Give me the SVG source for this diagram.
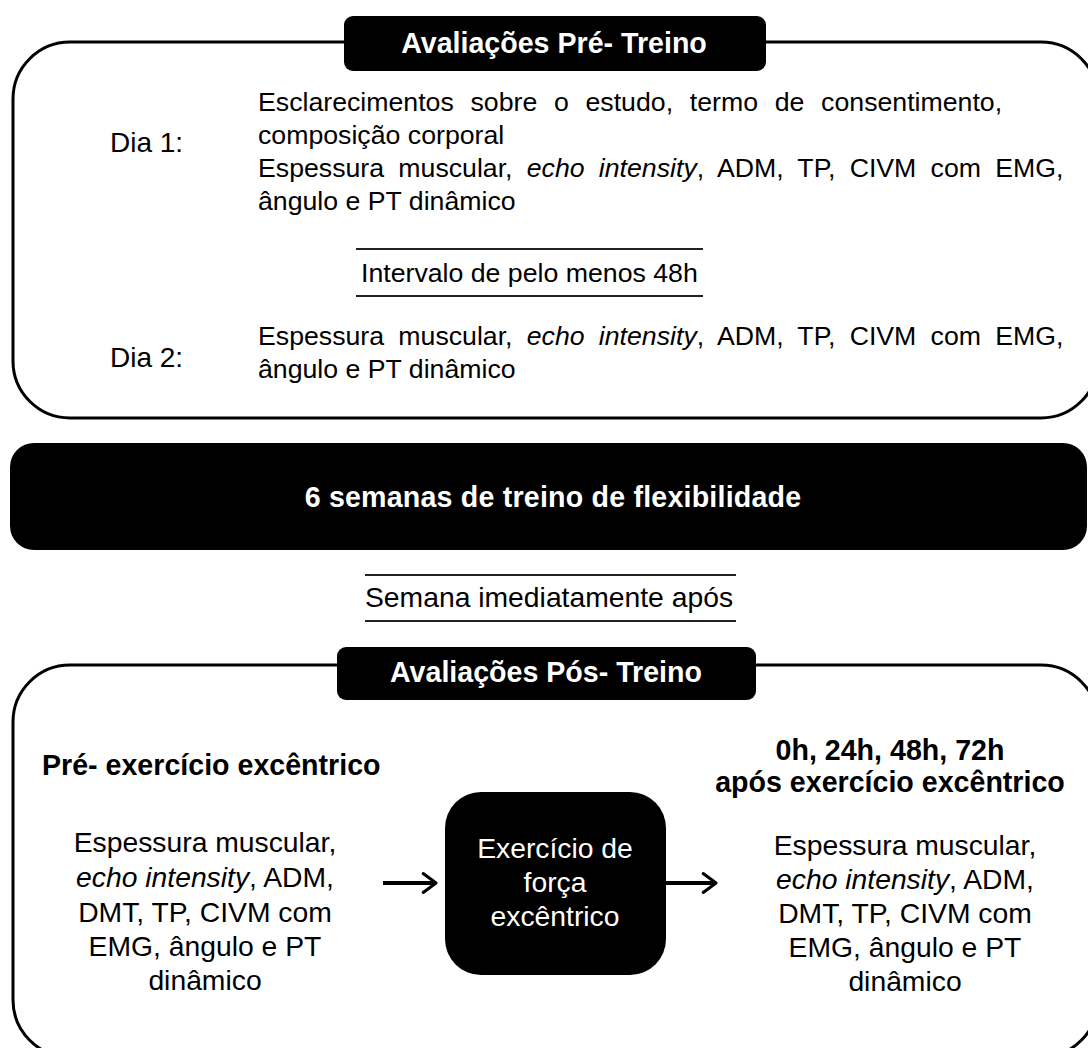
<svg xmlns="http://www.w3.org/2000/svg" width="1088" height="1048" viewBox="0 0 1088 1048">
<style>
  .t { font-family: "Liberation Sans", Arial, sans-serif; font-size: 26.7px; fill: #000; }
  .m { font-family: "Liberation Sans", Arial, sans-serif; font-size: 28.3px; fill: #000; }
  .d { font-family: "Liberation Sans", Arial, sans-serif; font-size: 28px; fill: #000; }
  .b { font-family: "Liberation Sans", Arial, sans-serif; font-size: 28.6px; font-weight: bold; }
  .w { fill: #fff; }
  .frame { fill: #fff; stroke: #000; stroke-width: 3; }
  .dark { fill: #000; }
  .rule { stroke: #222; stroke-width: 2; }
  .c { text-anchor: middle; }
  .i { font-style: italic; }
</style>
<defs>
  <marker id="chev" viewBox="0 0 12 12" refX="9.5" refY="6" markerWidth="6.2" markerHeight="6.2" orient="auto" markerUnits="strokeWidth">
    <path d="M3,1.2 L9.5,6 L3,10.8" fill="none" stroke="#000" stroke-width="1.6" stroke-linecap="round" stroke-linejoin="round"/>
  </marker>
</defs>
<rect width="1088" height="1048" fill="#fff"/>

<g id="pre-treino">
  <rect class="frame" x="13" y="42" width="1085" height="376" rx="57"/>
  <rect class="dark" x="344" y="16" width="422" height="55" rx="9"/>
  <text class="b w c" x="554" y="53">Avaliações Pré- Treino</text>
  <text class="d" x="110" y="152">Dia 1:</text>
  <text class="t" x="258" y="111" word-spacing="9.3">Esclarecimentos sobre o estudo, termo de consentimento,</text>
  <text class="t" x="258" y="144">composição corporal</text>
  <text class="t" x="258" y="177" word-spacing="6.8">Espessura muscular, <tspan class="i">echo intensity</tspan>, ADM, TP, CIVM com EMG,</text>
  <text class="t" x="258" y="210">ângulo e PT dinâmico</text>
  <line class="rule" x1="356" y1="249" x2="703" y2="249"/>
  <text class="t" x="361" y="282">Intervalo de pelo menos 48h</text>
  <line class="rule" x1="356" y1="296" x2="703" y2="296"/>
  <text class="d" x="110" y="367">Dia 2:</text>
  <text class="t" x="258" y="345" word-spacing="6.8">Espessura muscular, <tspan class="i">echo intensity</tspan>, ADM, TP, CIVM com EMG,</text>
  <text class="t" x="258" y="378">ângulo e PT dinâmico</text>
</g>

<g id="treino">
  <rect class="dark" x="10" y="443" width="1077" height="107" rx="24"/>
  <text class="b w c" x="553" y="507" letter-spacing="0.2">6 semanas de treino de flexibilidade</text>
</g>

<g id="intervalo-pos">
  <line class="rule" x1="365" y1="575" x2="736" y2="575"/>
  <text class="m" x="365" y="607" font-size="28.5">Semana imediatamente após</text>
  <line class="rule" x1="365" y1="621" x2="736" y2="621"/>
</g>

<g id="pos-treino">
  <rect class="frame" x="13" y="665" width="1085" height="392" rx="57"/>
  <rect class="dark" x="337" y="647" width="419" height="53" rx="9"/>
  <text class="b w c" x="546" y="682">Avaliações Pós- Treino</text>
</g>

<g id="pre-excentrico">
  <text class="b" x="42" y="775">Pré- exercício excêntrico</text>
  <text class="m c" x="205" y="852">Espessura muscular,</text>
  <text class="m c" x="205" y="887"><tspan class="i">echo intensity</tspan>, ADM,</text>
  <text class="m c" x="205" y="922">DMT, TP, CIVM com</text>
  <text class="m c" x="205" y="956">EMG, ângulo e PT</text>
  <text class="m c" x="205" y="990">dinâmico</text>
</g>

<g id="exercicio">
  <rect class="dark" x="445" y="792" width="221" height="183" rx="36"/>
  <text class="m w c" x="555" y="858" font-size="28.5">Exercício de</text>
  <text class="m w c" x="555" y="892" font-size="28.5">força</text>
  <text class="m w c" x="555" y="926" font-size="28.5">excêntrico</text>
</g>

<g id="pos-excentrico">
  <text class="b c" x="890" y="760">0h, 24h, 48h, 72h</text>
  <text class="b c" x="890" y="792">após exercício excêntrico</text>
  <text class="m c" x="905" y="855">Espessura muscular,</text>
  <text class="m c" x="905" y="889"><tspan class="i">echo intensity</tspan>, ADM,</text>
  <text class="m c" x="905" y="923">DMT, TP, CIVM com</text>
  <text class="m c" x="905" y="957">EMG, ângulo e PT</text>
  <text class="m c" x="905" y="991">dinâmico</text>
</g>

<g id="connectors" fill="none" stroke="#000" stroke-width="3.8">
  <line x1="383" y1="883" x2="436" y2="883" marker-end="url(#chev)"/>
  <line x1="666" y1="883" x2="716" y2="883" marker-end="url(#chev)"/>
</g>
</svg>
